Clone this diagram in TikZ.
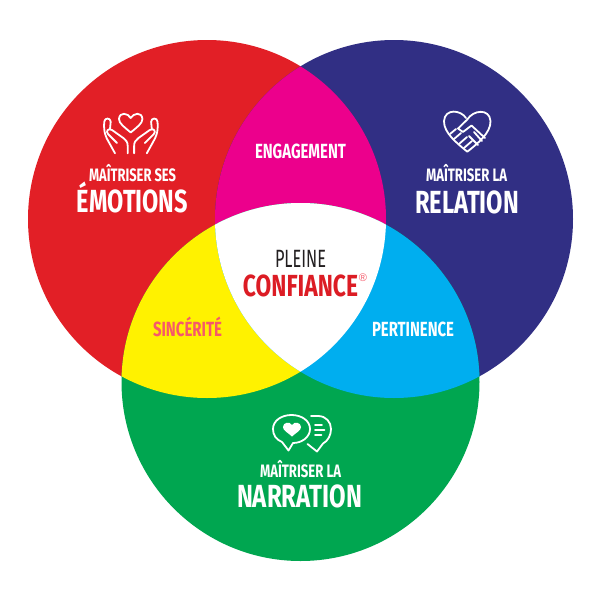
\documentclass[tikz,border=0pt]{standalone}
\usepackage{graphicx}
\usepackage{fontspec}
\setmainfont{Fira Sans}
\newfontfamily\regfont{Liberation Sans}
\definecolor{cred}{HTML}{E21F26}
\definecolor{cblue}{HTML}{312F84}
\definecolor{cgreen}{HTML}{00A650}
\definecolor{cyel}{HTML}{FFF200}
\definecolor{cmag}{HTML}{EC008C}
\definecolor{ccya}{HTML}{00AEEF}
\definecolor{cpink}{HTML}{F6596A}
\definecolor{cconf}{HTML}{DC1C24}
\definecolor{cdark}{HTML}{231F20}
\newcommand\fitb[3]{\resizebox{#1pt}{\height}{\fontsize{#2}{#2}\selectfont\bfseries #3}}
\newcommand\fitr[3]{\resizebox{#1pt}{\height}{\fontsize{#2}{#2}\selectfont #3}}
\newcommand\handpath{
  \draw[iconline] (115,153.3) -- (106.7,138.3) .. controls (104.5,133) and (104,130) .. (104,126) -- (104.3,121.7) .. controls (104.5,117.5) and (110.5,117.5) .. (110.7,121.7) -- (110,129);
  \draw[iconline] (127.7,153.3) -- (127.7,146) .. controls (127.7,142) and (126,140) .. (123.3,138) -- (112,130) .. controls (108,127.5) and (105.5,131.5) .. (108,134) -- (117,143);
}
\tikzset{
  iconline/.style={draw=white,line width=1.8pt,line cap=round,line join=round,fill=none},
  lab/.style={anchor=base,inner sep=0pt,outer sep=0pt,text=white},
}
\begin{document}
\begin{tikzpicture}[x=1pt,y=-1pt]
\useasboundingbox (0,0) rectangle (600,600);
\fill[white] (0,0) rectangle (600,600);
\coordinate (R) at (207,219);
\coordinate (B) at (394,219);
\coordinate (G) at (300.5,382);
\def\rr{179pt}
\fill[cred] (R) circle[radius=\rr];
\fill[cblue] (B) circle[radius=\rr];
\fill[cgreen] (G) circle[radius=\rr];
\begin{scope}\clip (R) circle[radius=\rr]; \fill[cmag] (B) circle[radius=\rr]; \fill[cyel] (G) circle[radius=\rr];\end{scope}
\begin{scope}\clip (B) circle[radius=\rr]; \fill[ccya] (G) circle[radius=\rr];\end{scope}
\begin{scope}\clip (R) circle[radius=\rr]; \clip (B) circle[radius=\rr]; \fill[white] (G) circle[radius=\rr];\end{scope}
% hands icon
\draw[iconline] (130.7,118) .. controls (128,113) and (119.5,111.5) .. (119,119) .. controls (118.8,123.5) and (125,127.5) .. (130.7,132.5) .. controls (136.5,127.5) and (142.6,123.5) .. (142.4,119) .. controls (142,111.5) and (133.5,113) .. (130.7,118) -- cycle;
\handpath
\begin{scope}[shift={(261.8,0)},xscale=-1]\handpath\end{scope}
% handshake heart icon
\draw[iconline] (466,118) .. controls (461,110) and (445,108) .. (444,121) .. controls (443.5,133) and (458,144) .. (467.3,151.7) .. controls (477,144) and (491,133) .. (490.5,121) .. controls (489.5,108) and (473,110) .. (467.3,119.5) -- (458,128.5) -- (463,132) -- (471.5,125.5) -- (485,138);
\draw[iconline] (450,134) -- (456,129);
\draw[iconline] (454,139) -- (461,133) ;
\draw[iconline] (459,144) -- (467,137);
\draw[iconline] (464,148) -- (472,141);
\draw[iconline] (469,136) -- (478,145);
\draw[iconline] (474,132) -- (482,141);
% speech icon
\draw[iconline] (282,442) .. controls (276,439.5) and (273,435) .. (273,429) .. controls (273,421) and (281,415) .. (291.5,415) .. controls (302,415) and (310,421) .. (310,429) .. controls (310,437) and (302,443) .. (293,443) -- (288.5,450.5) -- cycle;
\draw[iconline] (311,416) -- (318,416) .. controls (326,416) and (331,422) .. (331,429) .. controls (331,435) and (328,441) .. (323,443.5) -- (317,451.5) -- (307.5,444);
\fill[white] (292,436.5) .. controls (287,432) and (283,430.5) .. (283,427) .. controls (283,422.5) and (289.5,421) .. (292,425) .. controls (294.5,421) and (301,422.5) .. (301,427) .. controls (301,430.5) and (297,432) .. (292,436.5) -- cycle;
\draw[iconline] (315,425) -- (322,425);
\draw[iconline] (315,430) -- (324.5,430);
\draw[iconline] (315,435) -- (321.5,435);
% texts
\node[lab] (t1) at (132.5,181) {\fitb{87}{18}{MAÎTRISER SES}};
\node[lab] (t2) at (132.5,212) {\fitb{111}{32}{ÉMOTIONS}};
\node[lab] (t3) at (466.5,181) {\fitb{81}{18}{MAÎTRISER LA}};
\node[lab] (t4) at (467,213) {\fitb{104}{32}{RELATION}};
\node[lab] (t5) at (300.5,477) {\fitb{81}{18}{MAÎTRISER LA}};
\node[lab] (t6) at (299.5,507) {\fitb{125}{32}{NARRATION}};
\node[lab] (t7) at (300.5,158) {\fitb{91}{20.5}{ENGAGEMENT}};
\node[lab,text=cpink] (t8) at (187.5,336) {\fitb{69}{20.5}{SINCÉRITÉ}};
\node[lab] (t9) at (413,336) {\fitb{82}{20.5}{PERTINENCE}};
\node[lab,text=cdark] (t10) at (300.5,267) {\fitr{51}{25}{PLEINE}};
\node[lab,text=cconf] (t11) at (300.5,296) {\fitb{115}{30.5}{CONFIANCE}};
\node[lab,text=cpink] (t12) at (363,281) {\regfont\fontsize{11}{11}\selectfont ®};
\end{tikzpicture}
\end{document}
